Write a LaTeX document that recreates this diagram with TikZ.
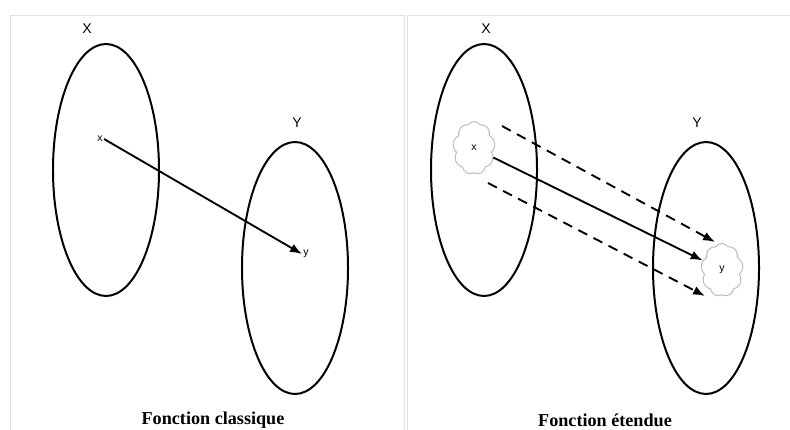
\documentclass[tikz,border=0pt]{standalone}
\usepackage{fontspec}
\setmainfont{Liberation Serif}
\newfontfamily\labelfont{Liberation Sans}
\usetikzlibrary{arrows.meta,shapes.symbols,shapes.geometric}

\tikzset{
  panel/.style={draw=black!12, line width=.8pt},
  setbox/.style={draw, ellipse, line width=1.7pt, minimum width=3.18cm, minimum height=7.56cm, inner sep=0pt},
  setname/.style={font=\labelfont\fontsize{12}{14}\selectfont},
  elem/.style={font=\labelfont\fontsize{9}{10}\selectfont, inner sep=1pt},
  puff/.style={cloud, cloud puffs=9, cloud puff arc=110, draw=black!25, line width=.9pt, aspect=.8,
    minimum width=1.26cm, minimum height=1.59cm, inner sep=0pt,
    font=\labelfont\fontsize{9}{10}\selectfont},
  map/.style={->, line width=1.6pt},
  mapdash/.style={->, line width=1.6pt, dash pattern=on 8.5pt off 6pt},
  caption/.style={font=\bfseries\fontsize{15.5}{17}\selectfont}
}

\begin{document}
\begin{tikzpicture}[x=0.03cm, y=-0.03cm, >=Latex]
    \useasboundingbox (0,0) rectangle (790,430);
    \draw[panel] (10,440) -- (10,15) -- (404.5,15) -- (404.5,440);
    \draw[panel] (407.5,440) -- (407.5,15) -- (795,15);

    % fonction classique
    \node[setbox] (ex) at (106,170) {};
    \node[setbox] (ey) at (295,268) {};
    \node[setname] (nx) at (87,29) {X};
    \node[setname] (ny) at (297,123) {Y};
    \node[elem] (px) at (100,139) {x};
    \node[elem] (py) at (306,254) {y};
    \draw[map] (px.east) -- (py.west);
    \node[caption] (c1) at (213,420) {Fonction classique};

    % fonction etendue
    \node[setbox] (fx) at (484,170) {};
    \node[setbox] (fy) at (706,268) {};
    \node[setname] (mx) at (486,29) {X};
    \node[setname] (my) at (697,123) {Y};
    \node[puff] (qx) at (474,148) {x};
    \node[puff] (qy) at (722,270) {y};
    \draw[map] (qx) -- (qy);
    \coordinate (a1) at (502,126);
    \coordinate (a2) at (715,242);
    \coordinate (b1) at (488,183);
    \coordinate (b2) at (705,296);
    \draw[mapdash] (a1) -- (a2);
    \draw[mapdash] (b1) -- (b2);
    \node[caption] (c2) at (605,420) {Fonction étendue};
  \end{tikzpicture}
\end{document}
